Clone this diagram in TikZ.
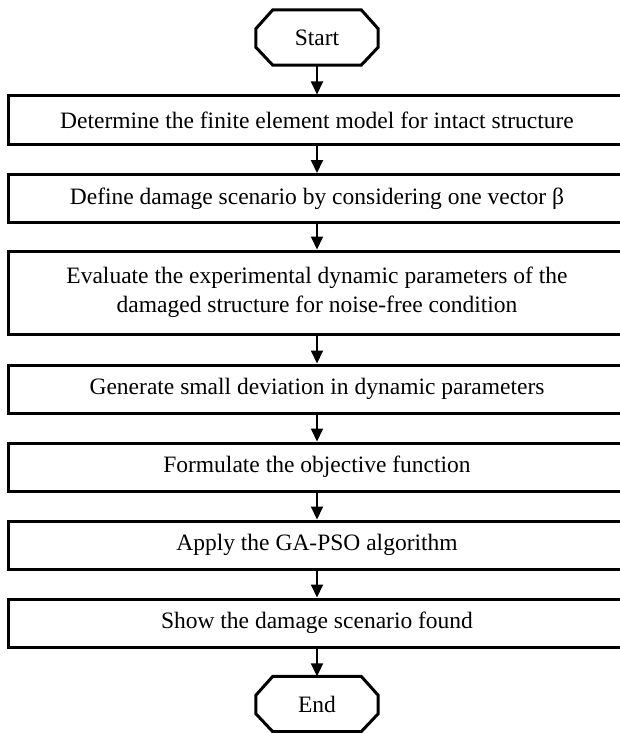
\documentclass[tikz,border=0pt]{standalone}
\usepackage{fontspec}
\setmainfont{Liberation Serif}
\usetikzlibrary{arrows.meta,calc}
\begin{document}
\begin{tikzpicture}[x=1pt,y=-1pt,
  txt/.style={font=\fontsize{23.5}{29.5}\selectfont},
  box/.style={txt, draw, line width=3pt, minimum width=618pt, minimum height=48pt, inner sep=0pt, align=center},
  term/.style={txt, minimum width=122pt, minimum height=55pt, inner sep=0pt},
  octo/.style={line width=3pt, line join=miter},
  arr/.style={line width=2pt, -{Triangle[length=13pt,width=12pt]}}]
\useasboundingbox (0,0) rectangle (619,733);
\node[term] (start) at (317,37.5) {Start};
\node[box] (b1) at (317,120) {Determine the finite element model for intact structure};
\node[box] (b2) at (317,198.5) {Define damage scenario by considering one vector β};
\node[box, minimum height=83pt] (b3) at (317,292.5) {Evaluate the experimental dynamic parameters of the\\damaged structure for noise-free condition};
\node[box] (b4) at (317,389) {Generate small deviation in dynamic parameters};
\node[box] (b5) at (317,467) {Formulate the objective function};
\node[box] (b6) at (317,545) {Apply the GA-PSO algorithm};
\node[box] (b7) at (317,623) {Show the damage scenario found};
\node[term] (end) at (317,704) {End};
\foreach \n in {start,end}{
  \draw[octo] ($(\n.north west)+(17,0)$) -- ($(\n.north east)+(-17,0)$)
    -- ($(\n.north east)+(0,19)$) -- ($(\n.south east)+(0,-18)$)
    -- ($(\n.south east)+(-17,0)$) -- ($(\n.south west)+(17,0)$)
    -- ($(\n.south west)+(0,-18)$) -- ($(\n.north west)+(0,19)$) -- cycle;
}
\draw[arr] (start.south) -- (b1.north);
\draw[arr] (b1.south) -- (b2.north);
\draw[arr] (b2.south) -- (b3.north);
\draw[arr] (b3.south) -- (b4.north);
\draw[arr] (b4.south) -- (b5.north);
\draw[arr] (b5.south) -- (b6.north);
\draw[arr] (b6.south) -- (b7.north);
\draw[arr] (b7.south) -- (end.north);
\end{tikzpicture}
\end{document}
